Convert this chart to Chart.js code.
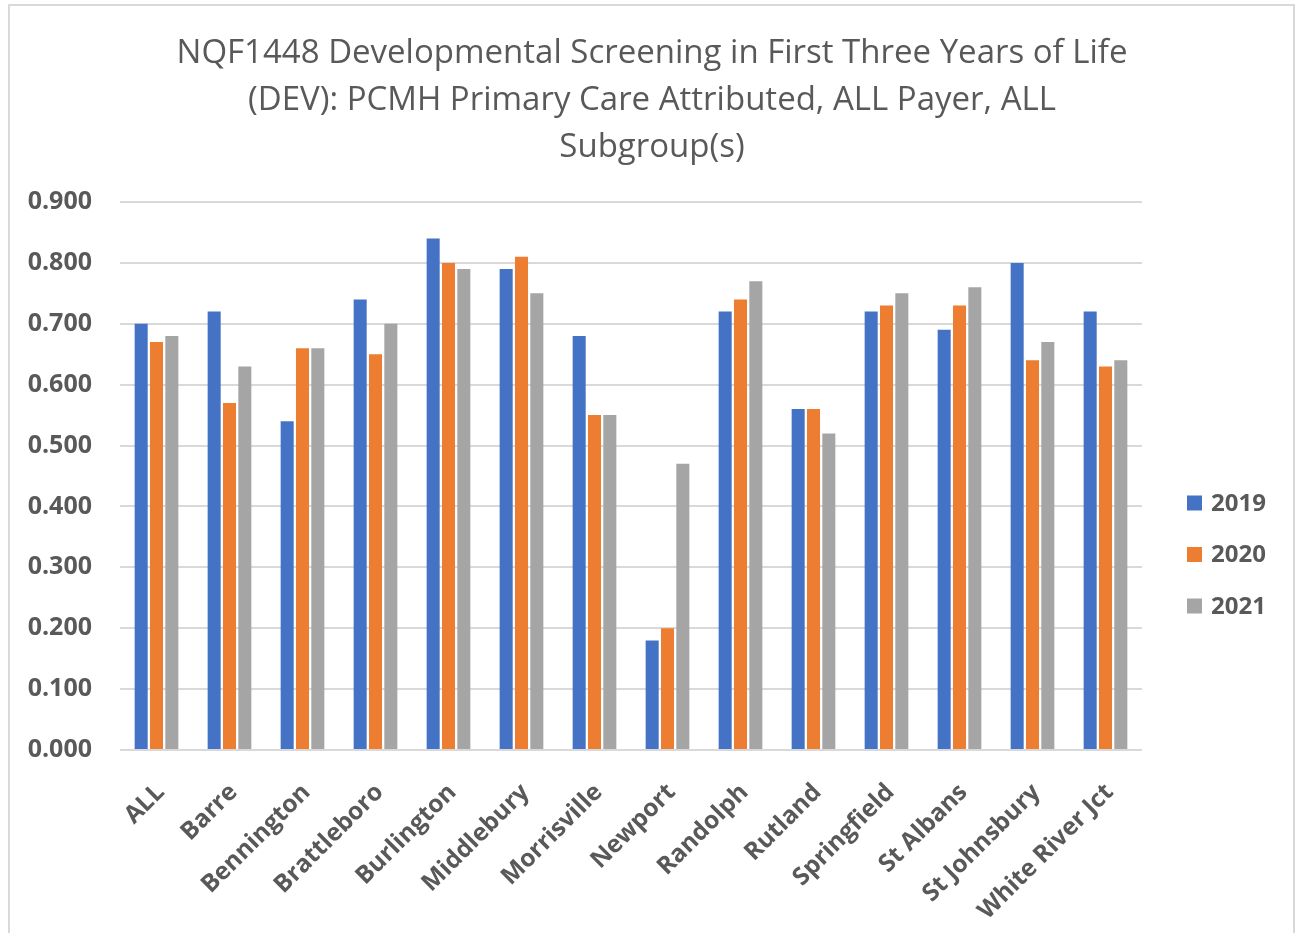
<!DOCTYPE html>
<html>
<head>
<meta charset="utf-8">
<script src="https://cdn.jsdelivr.net/npm/chart.js@4.4.1/dist/chart.umd.min.js"></script>
<style>
  html, body { margin: 0; padding: 0; background: #ffffff; overflow: hidden; }
  body { width: 1295px; height: 933px; position: relative; }
  #frame { position: absolute; left: 8px; top: 4px; width: 1283px; height: 960px;
           border: 2px solid #d9d9d9; border-bottom: none; box-sizing: content-box; }
  #wrap { position: absolute; left: 0; top: 0; width: 1295px; height: 933px; }
</style>
</head>
<body>
<div id="frame"></div>
<div id="wrap"><canvas id="c" width="1295" height="933"></canvas></div>
<script>
const categories = ['ALL', 'Barre', 'Bennington', 'Brattleboro', 'Burlington', 'Middlebury',
  'Morrisville', 'Newport', 'Randolph', 'Rutland', 'Springfield', 'St Albans',
  'St Johnsbury', 'White River Jct'];
const seriesNames = ['2019', '2020', '2021'];
const values2019 = [0.70, 0.72, 0.54, 0.74, 0.84, 0.79, 0.68, 0.18, 0.72, 0.56, 0.72, 0.69, 0.80, 0.72];
const values2020 = [0.67, 0.57, 0.66, 0.65, 0.80, 0.81, 0.55, 0.20, 0.74, 0.56, 0.73, 0.73, 0.64, 0.63];
const values2021 = [0.68, 0.63, 0.66, 0.70, 0.79, 0.75, 0.55, 0.47, 0.77, 0.52, 0.75, 0.76, 0.67, 0.64];
const titleLines = ['NQF1448 Developmental Screening in First Three Years of Life',
  '(DEV): PCMH Primary Care Attributed, ALL Payer, ALL', 'Subgroup(s)'];
const colors = ['#4472C4', '#ED7D31', '#A5A5A5'];

const TEXT = '#595959';
const FONT = "'Open Sans', 'Liberation Sans', sans-serif";

// custom legend as a layout box on the right
const rightLegend = {
  id: 'rightLegend',
  beforeInit(chart) {
    const box = {
      position: 'right', weight: 0, fullSize: false, options: {},
      top: 0, left: 0, right: 0, bottom: 0, width: 0, height: 0,
      isHorizontal() { return false; },
      getPadding() { return {top: 0, left: 0, right: 0, bottom: 0}; },
      update(maxW, maxH) { this.width = 153; this.height = maxH; },
      draw() {
        const ctx = chart.ctx;
        ctx.save();
        ctx.font = "bold 24px " + FONT;
        ctx.textBaseline = 'middle';
        ctx.textAlign = 'left';
        chart.data.datasets.forEach((d, i) => {
          const cy = 503 + i * 51.5;
          ctx.fillStyle = d.backgroundColor;
          ctx.fillRect(this.left + 45, cy - 7.5, 15, 15);
          ctx.fillStyle = TEXT;
          ctx.fillText(d.label, this.left + 69, cy + 1);
        });
        ctx.restore();
      }
    };
    Chart.layouts.addBox(chart, box);
  }
};

new Chart(document.getElementById('c'), {
  type: 'bar',
  data: {
    labels: categories,
    datasets: [
      { label: seriesNames[0], data: values2019, backgroundColor: colors[0] },
      { label: seriesNames[1], data: values2020, backgroundColor: colors[1] },
      { label: seriesNames[2], data: values2021, backgroundColor: colors[2] }
    ]
  },
  options: {
    responsive: false,
    animation: false,
    devicePixelRatio: 1,
    layout: { padding: { left: 9, right: 0, top: 0, bottom: 0 } },
    datasets: { bar: { categoryPercentage: 0.63, barPercentage: 0.85, borderWidth: 0 } },
    plugins: {
      legend: { display: false },
      tooltip: { enabled: false },
      title: {
        display: true,
        text: titleLines,
        color: TEXT,
        font: { family: FONT, size: 33, weight: 'normal', lineHeight: 47 / 33 },
        padding: { top: 30.5, bottom: 30.5 }
      }
    },
    scales: {
      x: {
        grid: { display: false },
        border: { display: false },
        ticks: {
          color: TEXT, autoSkip: false, minRotation: 45, maxRotation: 45, padding: 20,
          labelOffset: 4,
          font: { family: FONT, size: 24.5, weight: 'bold' }
        },
        afterFit(s) { s.height = 183; }
      },
      y: {
        min: 0, max: 0.9,
        border: { display: false },
        grid: { color: '#d9d9d9', lineWidth: 2, drawTicks: false },
        ticks: {
          stepSize: 0.1, color: TEXT, padding: 28,
          font: { family: FONT, size: 25, weight: 'bold' },
          callback: (v) => Number(v).toFixed(3)
        },
        afterFit(s) { s.width = 111; }
      }
    }
  },
  plugins: [rightLegend]
});
</script>
</body>
</html>
